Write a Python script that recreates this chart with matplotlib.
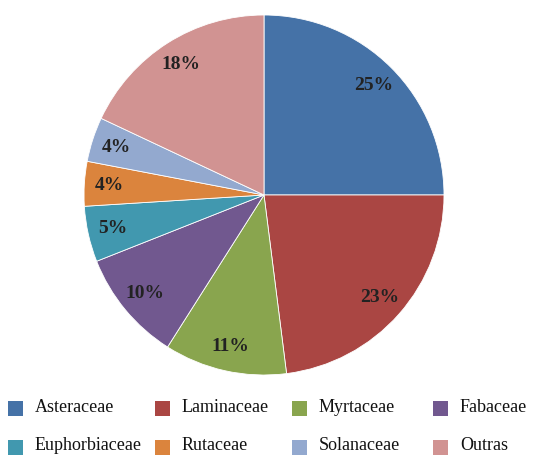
import matplotlib.pyplot as plt
from matplotlib.patches import Rectangle

families = ['Asteraceae', 'Laminaceae', 'Myrtaceae', 'Fabaceae',
            'Euphorbiaceae', 'Rutaceae', 'Solanaceae', 'Outras']
shares = [25, 23, 11, 10, 5, 4, 4, 18]
colors = ['#4572A7', '#AA4643', '#89A54E', '#71588F',
          '#4198AF', '#DB843D', '#93A9CF', '#D19392']

W, H = 549, 455
fig = plt.figure(figsize=(W / 100, H / 100), dpi=100)
plt.rcParams['font.family'] = ['Liberation Serif', 'DejaVu Serif']

cx, cy, r = 264, 195, 180
ax = fig.add_axes([(cx - r) / W, (H - cy - r) / H, 2 * r / W, 2 * r / H])
wedges, texts, autotexts = ax.pie(
    shares, colors=colors, startangle=90, counterclock=False,
    autopct='%d%%', pctdistance=0.86,
    wedgeprops=dict(edgecolor='white', linewidth=0.6),
    textprops=dict(fontsize=14, fontweight='bold', color='#222222'))
ax.set_xlim(-1, 1)
ax.set_ylim(-1, 1)
ax.set_aspect('equal')

# legend: 2 rows x 4 columns, placed by hand
col_x = [8, 155, 292, 433]
row_y = [408, 447]
for i, (name, c) in enumerate(zip(families, colors)):
    x = col_x[i % 4]
    y = row_y[i // 4]
    fig.patches.append(Rectangle((x / W, (H - y - 7.5) / H), 15 / W, 15 / H,
                                 transform=fig.transFigure, facecolor=c,
                                 edgecolor='none'))
    fig.text((x + 27) / W, (H - y + 1) / H, name, fontsize=13,
             va='center', ha='left', color='#111111')

fig.savefig('out.png', dpi=100, facecolor='white')
